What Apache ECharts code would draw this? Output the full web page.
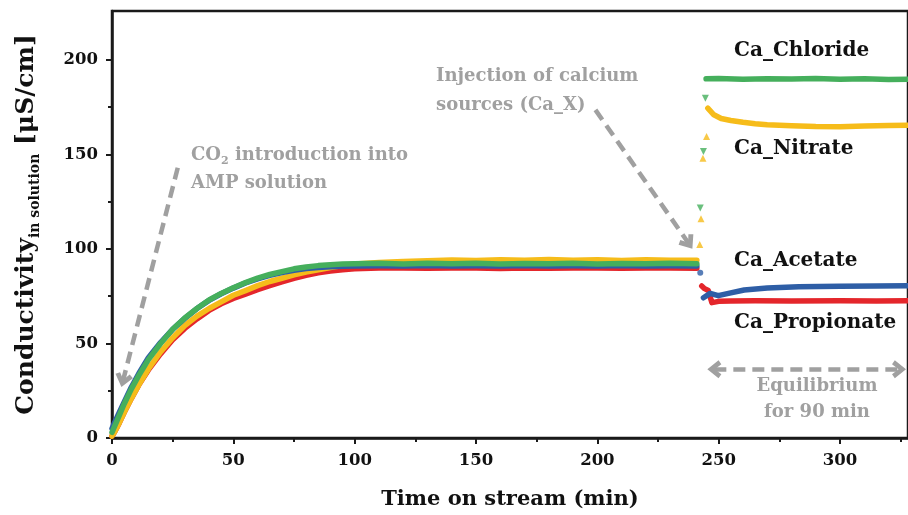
<!DOCTYPE html>
<html>
<head>
<meta charset="utf-8">
<script src="https://cdn.jsdelivr.net/npm/echarts@6/dist/echarts.min.js"></script>
<style>
html,body{margin:0;padding:0;background:#fff;}
#chart{width:908px;height:515px;}
</style>
</head>
<body>
<div id="chart"></div>
<script>
// ---------- data ----------
const xTickLabels = [0, 50, 100, 150, 200, 250, 300];
const xMinorTicks = [25, 75, 125, 175, 225, 275, 325];
const yTickLabels = [0, 50, 100, 150, 200];
const yMinorTicks = [25, 75, 125, 175];

// time (min) before injection of Ca sources
const tPre = [0,1,3,5,8,11,15,20,25,30,35,40,45,50,55,60,65,70,75,80,85,90,95,100,
              110,120,130,140,150,160,170,180,190,200,210,220,230,241];
const chloridePre = [3,6,12,18,26,33,41.5,50,57.5,63.5,68.5,73,76.5,79.5,82.2,84.6,86.5,88,89.5,90.5,91.2,91.7,92,92.2,
              92.4,92.1,92.4,92.2,92.5,92.1,92.3,92.2,92.4,92.1,92.3,92.2,92.4,92.2];
const acetatePre = [5,8,13.5,19,27,34,42.5,50.5,57.5,63.3,68.5,72.8,76.3,79.3,82,84.2,86,87.5,88.7,89.6,90.2,90.6,90.9,91,
              91.1,91,91.2,91,91.1,91,91.2,91,91.1,91,91.2,91,91.1,91];
const nitratePre = [1,3,8,13.5,21,28,36.5,45.5,53,59.5,64.5,68.5,72,75.5,78,80.6,82.8,84.5,86.3,87.8,89,90.2,91.2,92,
              92.8,93.4,93.8,94.2,93.9,94.3,94,94.4,94.1,94.3,93.9,94.3,94.1,94];
const propionatePre = [1,3,8,13.5,21,28,36,44.5,52,58,63,67.5,71,73.8,76.1,78.5,80.6,82.6,84.5,86.1,87.4,88.3,89,89.5,
              89.9,90,89.8,90,89.9,89.7,90,89.8,90,89.9,89.8,90,89.9,89.8];

// after injection
const tChloridePost = [244.8,250,260,270,280,290,300,310,320,328];
const chloridePost  = [190,190.2,189.8,190.1,189.9,190.2,189.8,190,189.7,189.8];
const tChlorideJump = [242.4,243.7,244.5];
const chlorideJump  = [121.7,151.6,179.8];

const tNitratePost = [245.5,248,251,255,260,265,270,280,290,300,310,320,328];
const nitratePost  = [174.5,171,169,168,167,166.2,165.7,165.2,164.8,164.7,165,165.3,165.5];
const tNitrateJump = [242.2,242.7,243.5,245];
const nitrateJump  = [102.4,116,148,159.5];

const tAcetatePost = [243.7,246.5,249.8,254,260.5,270,283,300,315,328];
const acetatePost  = [74.2,76.5,75.3,76.5,78.3,79.3,80,80.3,80.4,80.5];
const tAcetateJump = [242.4];
const acetateJump  = [87.4];

const tPropionatePost = [243,244.2,245.7,247.2,250,255,265,280,300,315,328];
const propionatePost  = [80.4,79,78,71.6,72.3,72.5,72.6,72.5,72.6,72.5,72.6];

const colors = { chloride:'#45AF5C', nitrate:'#F6BC1A', acetate:'#2E5EA6', propionate:'#E4262B' };

// ---------- chart ----------
const FONT = '"DejaVu Serif", serif';
const AX = '#1a1a1a';
const GRAY = '#A0A0A0';
const pairs = (ts, vs) => ts.map((t, i) => [t, vs[i]]);
const chevron = 'path://M0,12 L10,0 L20,12 L15.5,15 L10,8 L4.5,15 Z';

function lineSeries(name, ts, vs, color, extra) {
  return Object.assign({
    name, type: 'line', data: pairs(ts, vs), showSymbol: false, symbol: 'none',
    lineStyle: { color, width: 5.5, cap: 'round', join: 'round' },
    itemStyle: { color }, silent: true, animation: false
  }, extra || {});
}
function jumpSeries(name, ts, vs, color, symbol, rot, size) {
  return { name, type: 'scatter', data: pairs(ts, vs), symbol, symbolRotate: rot, symbolSize: size,
    itemStyle: { color }, silent: true, animation: false };
}

const chart = echarts.init(document.getElementById('chart'), null, { renderer: 'canvas' });

const option = {
  animation: false,
  backgroundColor: '#fff',
  grid: { left: 112, top: 11, right: -2, bottom: 76, show: true, borderColor: AX, borderWidth: 2.5, backgroundColor: 'transparent' },
  xAxis: [
    { type: 'value', min: 0, max: 328, position: 'bottom',
      axisLine: { onZero: false, lineStyle: { color: AX, width: 2.5 } },
      axisTick: { length: 6, lineStyle: { color: AX, width: 2 }, customValues: xTickLabels },
      axisLabel: { customValues: xTickLabels, margin: 14, fontSize: 16.5, fontWeight: 'bold', fontFamily: FONT, color: '#111' },
      splitLine: { show: false },
      name: 'Time on stream (min)', nameLocation: 'middle', nameGap: 51,
      nameTextStyle: { fontSize: 21, fontWeight: 'bold', fontFamily: FONT, color: '#111' } },
    { type: 'value', min: 0, max: 328, position: 'bottom',
      axisLine: { show: false },
      axisTick: { length: 4, lineStyle: { color: AX, width: 2 }, customValues: xMinorTicks },
      axisLabel: { show: false }, splitLine: { show: false } }
  ],
  yAxis: [
    { type: 'value', min: 0, max: 225.9, position: 'left',
      axisLine: { show: true, onZero: false, lineStyle: { color: AX, width: 2.5 } },
      axisTick: { show: true, length: 6, lineStyle: { color: AX, width: 2 }, customValues: yTickLabels },
      axisLabel: { customValues: yTickLabels, margin: 14, fontSize: 16.5, fontWeight: 'bold', fontFamily: FONT, color: '#111' },
      splitLine: { show: false },
      name: '{a|Conductivity}{s|in solution}{a| [μS/cm]}', nameLocation: 'middle', nameRotate: 90, nameGap: 70,
      nameTextStyle: { fontFamily: FONT, fontWeight: 'bold', color: '#111',
        rich: {
          a: { fontSize: 25, fontFamily: FONT, fontWeight: 'bold', color: '#111', lineHeight: 31, verticalAlign: 'middle' },
          s: { fontSize: 14, fontFamily: FONT, fontWeight: 'bold', color: '#111', lineHeight: 14, verticalAlign: 'bottom' }
        } } },
    { type: 'value', min: 0, max: 225.9, position: 'left',
      axisLine: { show: false },
      axisTick: { show: true, length: 4, lineStyle: { color: AX, width: 2 }, customValues: yMinorTicks },
      axisLabel: { show: false }, splitLine: { show: false } }
  ],
  series: [
    lineSeries('Ca_Propionate pre', tPre, propionatePre, colors.propionate),
    lineSeries('Ca_Nitrate pre', tPre, nitratePre, colors.nitrate),
    lineSeries('Ca_Acetate pre', tPre, acetatePre, colors.acetate),
    lineSeries('Ca_Chloride pre', tPre, chloridePre, colors.chloride, {
      markLine: {
        silent: true, animation: false,
        symbol: ['none', chevron], symbolSize: [18, 14],
        label: { show: false },
        lineStyle: { color: GRAY, width: 4.5, type: [12, 7] },
        data: [
          [{ coord: [27.1, 143] }, { coord: [4.6, 30.6] }],
          [{ coord: [199.2, 173.6] }, { coord: [237.5, 103.2] }],
          [{ coord: [248.2, 36.4], symbol: chevron }, { coord: [324.3, 36.4] }]
        ]
      }
    }),
    lineSeries('Ca_Propionate post', tPropionatePost, propionatePost, colors.propionate),
    lineSeries('Ca_Acetate post', tAcetatePost, acetatePost, colors.acetate),
    lineSeries('Ca_Nitrate post', tNitratePost, nitratePost, colors.nitrate),
    lineSeries('Ca_Chloride post', tChloridePost, chloridePost, colors.chloride),
    jumpSeries('Ca_Acetate jump', tAcetateJump, acetateJump, colors.acetate, 'circle', 0, 6),
    jumpSeries('Ca_Nitrate jump', tNitrateJump, nitrateJump, colors.nitrate, 'triangle', 0, 7),
    jumpSeries('Ca_Chloride jump', tChlorideJump, chlorideJump, colors.chloride, 'triangle', 180, 7)
  ],
  graphic: []
};

function txt(x, y, text, color, size, align, rich) {
  const st = { text, font: 'bold ' + size + 'px ' + FONT, fill: color,
    align: align || 'left', textAlign: align || 'left', verticalAlign: 'middle', textVerticalAlign: 'middle' };
  if (rich) st.rich = rich;
  return { type: 'text', x, y, z: 100, silent: true, style: st };
}
option.graphic = [
  txt(191, 155, '{a|CO}{b|2}{a| introduction into}', GRAY, 18, 'left', {
    a: { fontSize: 18, fontFamily: FONT, fontWeight: 'bold', fill: GRAY, lineHeight: 24, verticalAlign: 'middle' },
    b: { fontSize: 11, fontFamily: FONT, fontWeight: 'bold', fill: GRAY, lineHeight: 11, verticalAlign: 'bottom' }
  }),
  txt(191, 183, 'AMP solution', GRAY, 18),
  txt(436, 76, 'Injection of calcium', GRAY, 18),
  txt(436, 105, 'sources (Ca_X)', GRAY, 18),
  txt(734, 51, 'Ca_Chloride', '#111', 20),
  txt(734, 149, 'Ca_Nitrate', '#111', 20),
  txt(734, 261, 'Ca_Acetate', '#111', 20),
  txt(734, 323, 'Ca_Propionate', '#111', 20),
  txt(817, 386, 'Equilibrium', GRAY, 18, 'center'),
  txt(817, 412, 'for 90 min', GRAY, 18, 'center')
];

chart.setOption(option);
</script>
</body>
</html>
